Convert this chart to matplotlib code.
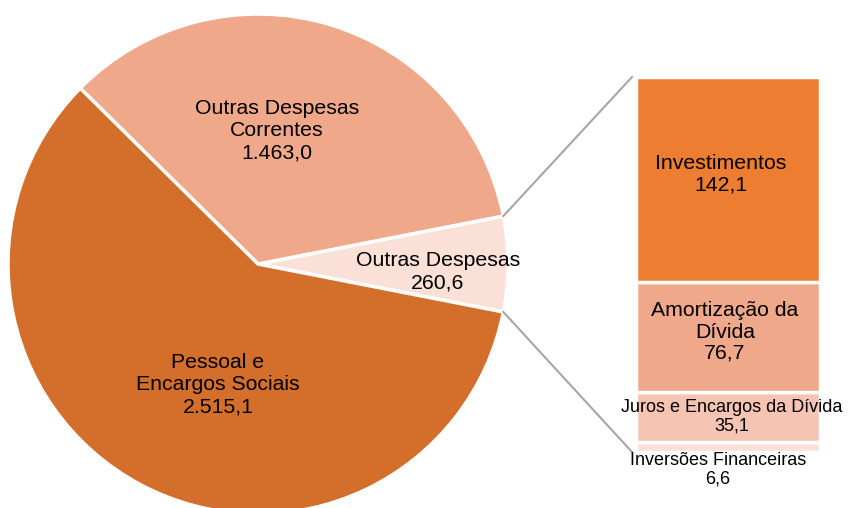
import numpy as np
import matplotlib.pyplot as plt

plt.rcParams['font.family'] = ['Liberation Sans', 'DejaVu Sans']

# pie data (order: starts at the right, counter-clockwise)
pie_labels = ['Outras Despesas', 'Outras Despesas\nCorrentes', 'Pessoal e\nEncargos Sociais']
pie_values = [260.6, 1463.0, 2515.1]
pie_text = ['260,6', '1.463,0', '2.515,1']
pie_colors = ['#FBE0D7', '#F0A88A', '#D36F2B']

# breakdown of "Outras Despesas" (bottom to top)
bar_labels = ['Inversões Financeiras', 'Juros e Encargos da Dívida', 'Amortização da\nDívida', 'Investimentos']
bar_values = [6.6, 35.1, 76.7, 142.1]
bar_text = ['6,6', '35,1', '76,7', '142,1']
bar_colors = ['#FBE0D7', '#F5C4B3', '#F0A88A', '#ED7D31']

W, H = 850, 508
fig = plt.figure(figsize=(8.5, 5.08), dpi=100)
ax = fig.add_axes([0, 0, 1, 1])
ax.set_zorder(2)

cx, cy, r = 258, H - 264, 250
half = 360 * pie_values[0] / sum(pie_values) / 2
wedges, _ = ax.pie(pie_values, colors=pie_colors, center=(cx, cy), radius=r,
                   startangle=-half, counterclock=True,
                   wedgeprops=dict(edgecolor='white', linewidth=2.5))
ax.set_xlim(0, W)
ax.set_ylim(0, H)
ax.set_aspect('equal')
ax.axis('off')

# pie labels (pixel positions, y from top)
pie_pos = [(438, 272), (277, 131), (218, 385)]
for lab, txt, (px, py) in zip(pie_labels, pie_text, pie_pos):
    ax.text(px, H - py, lab + '\n' + txt, ha='center', va='center',
            fontsize=15.3, linespacing=1.2, color='black')

# stacked bar
bx0, bx1, by_top, by_bot = 636, 820, 77, 452
bax = fig.add_axes([bx0 / W, (H - by_bot) / H, (bx1 - bx0) / W, (by_bot - by_top) / H])
bax.set_zorder(1)
bottom = 0
for v, c in zip(bar_values, bar_colors):
    bax.bar(0, v, width=1.0, bottom=bottom, color=c, edgecolor='white', linewidth=2.5)
    bottom += v
bax.set_xlim(-0.5, 0.5)
bax.set_ylim(0, sum(bar_values))
bax.axis('off')

bar_pos = [(718, 470, 13), (732, 417, 13), (725, 332, 15.3), (721, 174, 15.3)]
for lab, txt, (px, py, fs) in zip(bar_labels, bar_text, bar_pos):
    ax.text(px, H - py, lab + '\n' + txt, ha='center', va='center',
            fontsize=fs, linespacing=1.15, color='black', zorder=5)

# connector lines
for sign, yb in [(1, by_top), (-1, by_bot)]:
    a = np.radians(sign * half)
    ex, ey = cx + r * np.cos(a), cy + r * np.sin(a)
    ax.plot([ex, bx0 - 4], [ey, H - yb], color='#A6A6A6', linewidth=1.5, zorder=1)

fig.savefig('out.png', dpi=100)
